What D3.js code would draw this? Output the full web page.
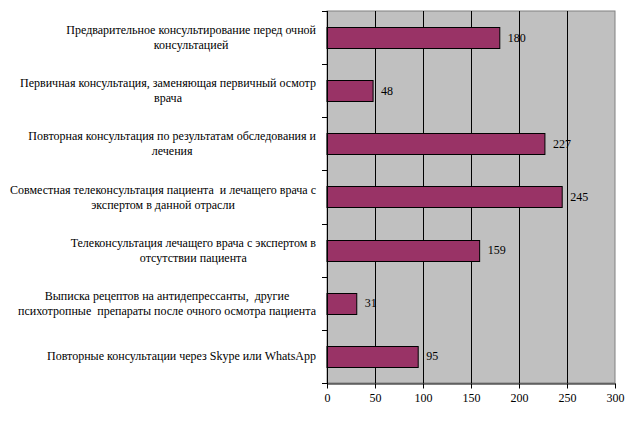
<!DOCTYPE html>
<html><head><meta charset="utf-8">
<script src="https://cdn.jsdelivr.net/npm/d3@7"></script>
<style>body{margin:0;background:#fff}svg{display:block}text{white-space:pre}</style>
</head><body>
<svg id="c" width="636" height="423"></svg>
<script>
const categories = [
  ["Предварительное консультирование перед очной", "консультацией"],
  ["Первичная консультация, заменяющая первичный осмотр", "врача"],
  ["Повторная консультация по результатам обследования и", "лечения"],
  ["Совместная телеконсультация пациента  и лечащего врача с", "экспертом в данной отрасли"],
  ["Телеконсультация лечащего врача с экспертом в", "отсутствии пациента"],
  ["Выписка рецептов на антидепрессанты,  другие", "психотропные  препараты после очного осмотра пациента"],
  ["Повторные консультации через Skype или WhatsApp"]
];
const values = [180, 48, 227, 245, 159, 31, 95];
const xTicks = [0, 50, 100, 150, 200, 250, 300];

const svg = d3.select("#c");
const L = 327, R = 615, T = 11, B = 383;
const font = "'Liberation Serif','Times New Roman',serif";
const x = d3.scaleLinear().domain([0, 300]).range([L, R]);
const y = d3.scaleBand().domain(d3.range(categories.length)).range([T, B]).paddingInner(0.6).paddingOuter(0.3);
const yb = d3.scaleBand().domain(d3.range(categories.length)).range([T, B]);

svg.append("rect").attr("x", L).attr("y", T).attr("width", R - L).attr("height", B - T)
  .attr("fill", "#c0c0c0").attr("stroke", "#808080").attr("stroke-width", 1);

svg.append("g").selectAll("line").data(xTicks.slice(1, -1)).join("line")
  .attr("x1", d => Math.round(x(d)) + 0.5).attr("x2", d => Math.round(x(d)) + 0.5)
  .attr("y1", T).attr("y2", B).attr("stroke", "#000");

svg.append("g").selectAll("rect").data(values).join("rect")
  .attr("x", L).attr("y", (d, i) => Math.round(y(i)) + 0.5)
  .attr("width", d => x(d) - L).attr("height", Math.round(y.bandwidth()))
  .attr("fill", "#993366").attr("stroke", "#000").attr("stroke-width", 1);

svg.append("g").selectAll("text").data(values).join("text")
  .attr("x", d => x(d) + 8).attr("y", (d, i) => y(i) + y.bandwidth() / 2 + 4)
  .attr("font-family", font).attr("font-size", 12).attr("fill", "#000").text(d => d);

// axes
const ax = svg.append("g").attr("transform", `translate(0,${B + 0.5})`)
  .call(d3.axisBottom(x).tickValues(xTicks).tickSize(5).tickSizeOuter(0));
ax.select(".domain").attr("stroke", "#000");
ax.selectAll("text").attr("font-family", font).attr("font-size", 12).attr("dy", "0.9em");

const ayTicks = d3.range(categories.length + 1).map(i => T + i * yb.bandwidth());
svg.append("line").attr("x1", L + 0.5).attr("x2", L + 0.5).attr("y1", T).attr("y2", B + 5).attr("stroke", "#000");
svg.append("g").selectAll("line").data(ayTicks).join("line")
  .attr("x1", L - 5).attr("x2", L).attr("y1", d => Math.round(d) + 0.5).attr("y2", d => Math.round(d) + 0.5)
  .attr("stroke", "#000");

// category labels
const lg = svg.append("g");
categories.forEach((lines, i) => {
  const cy = yb(i) + yb.bandwidth() / 2;
  const g = lg.append("g");
  const lh = 15;
  const ts = lines.map((ln, j) => g.append("text")
    .attr("font-family", font).attr("font-size", 12).attr("fill", "#000")
    .attr("text-anchor", "middle")
    .attr("y", cy - (lines.length - 1) * lh / 2 + j * lh + 4)
    .text(ln));
  const maxW = d3.max(ts, t => t.node().getComputedTextLength());
  ts.forEach(t => t.attr("x", 316 - maxW / 2));
});
</script>
</body></html>
